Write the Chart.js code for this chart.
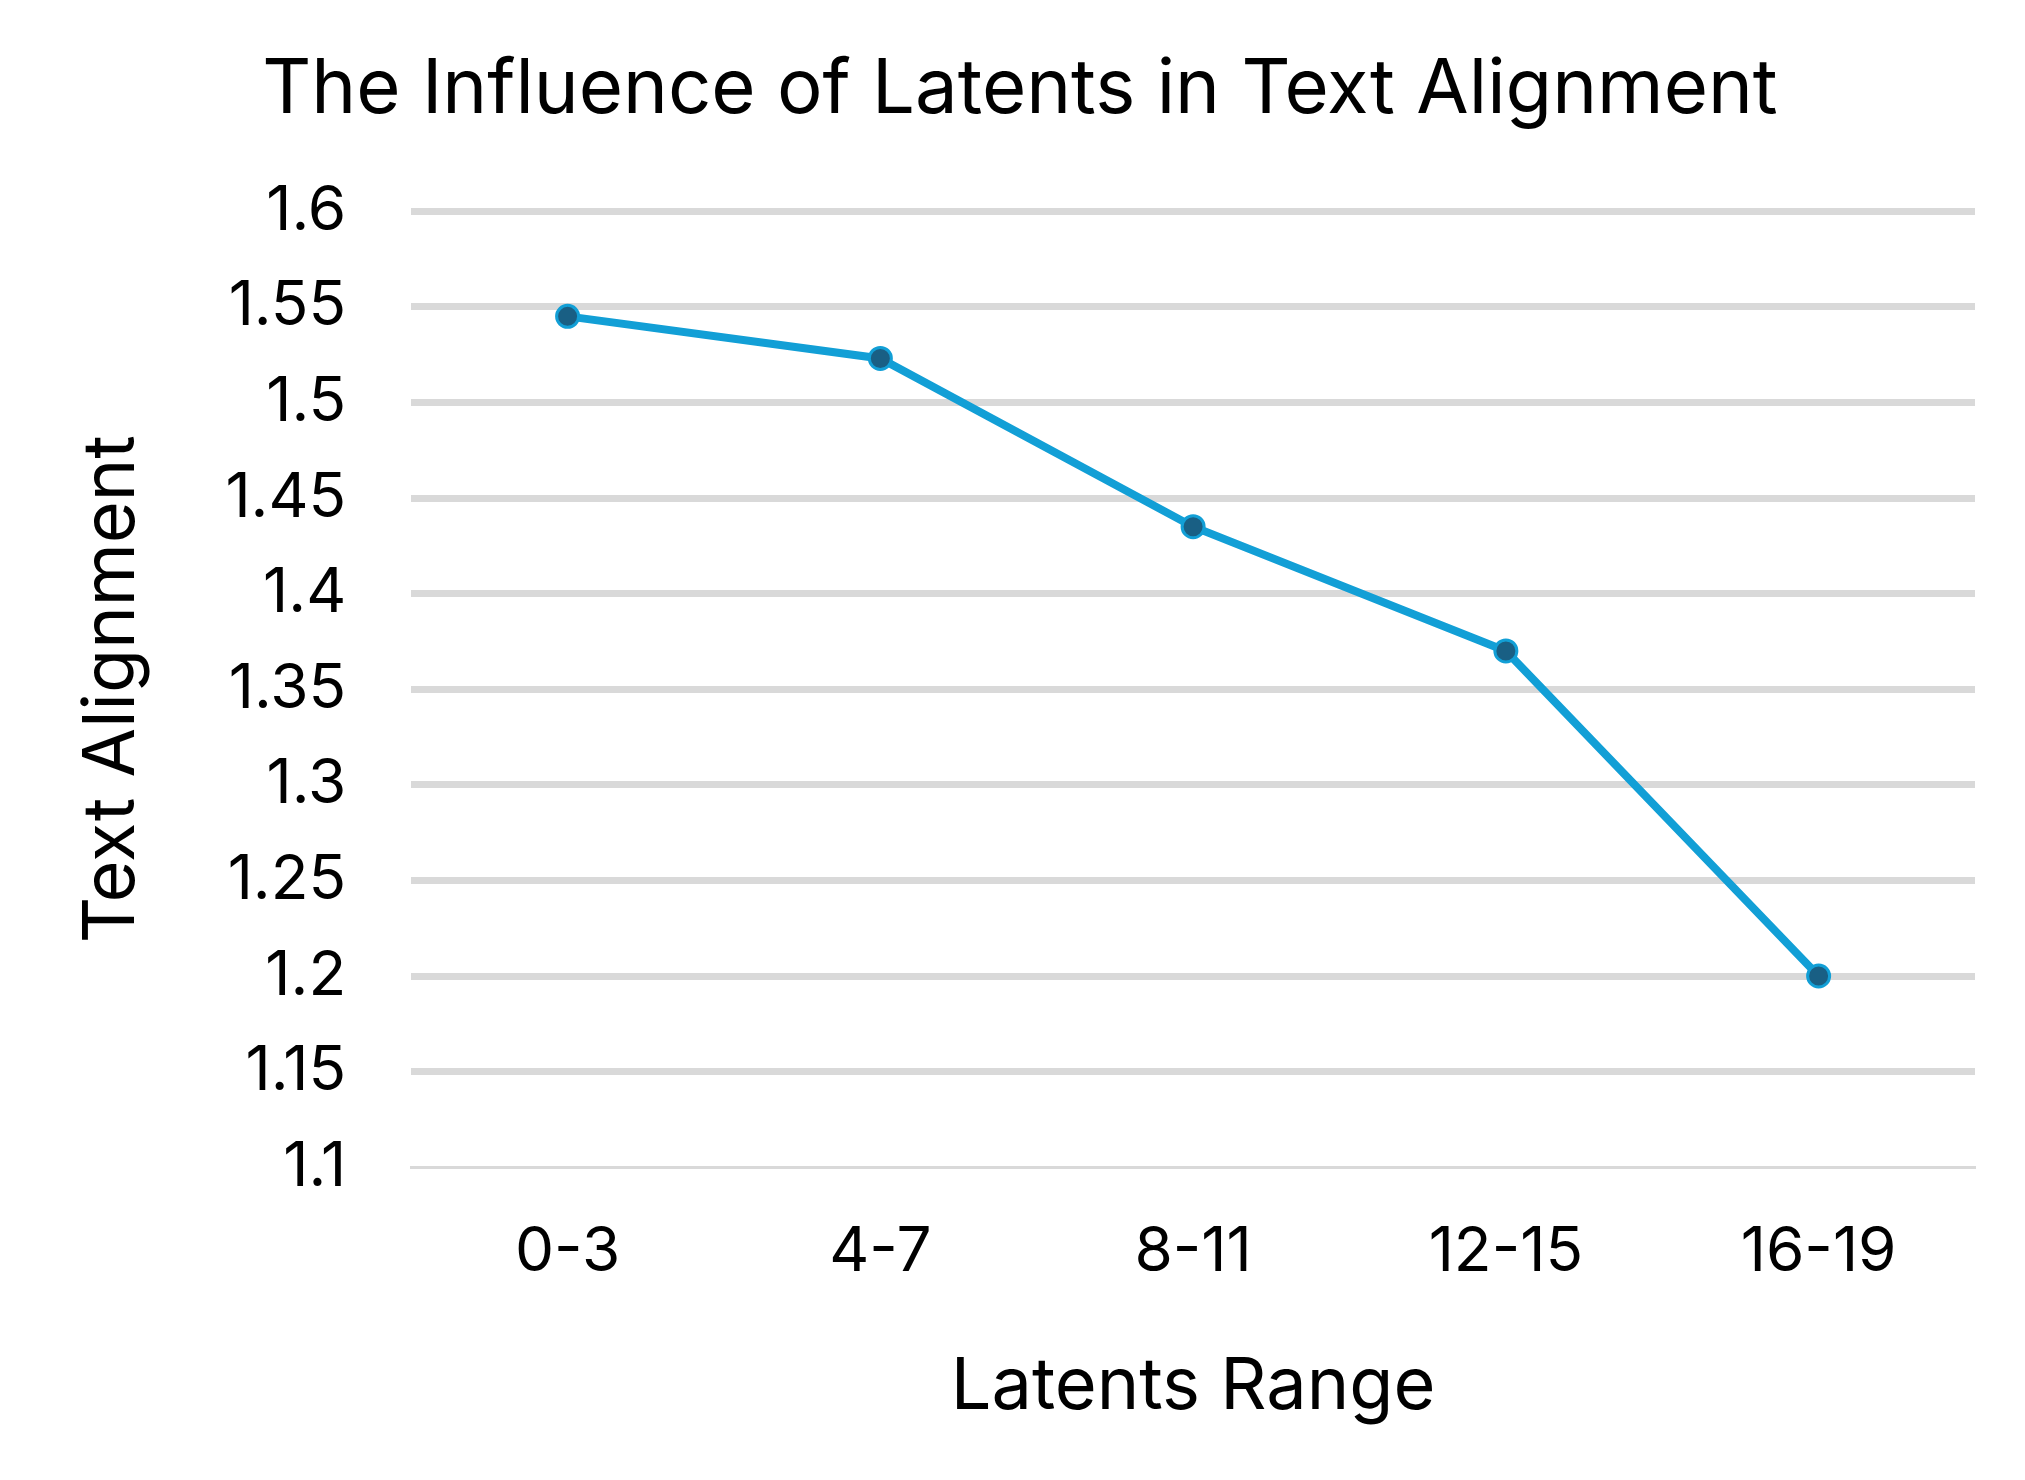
<!DOCTYPE html>
<html><head><meta charset="utf-8">
<script src="https://cdn.jsdelivr.net/npm/chart.js@4"></script>
<style>html,body{margin:0;padding:0;background:#fff}</style>
</head><body>
<canvas id="c" width="2025" height="1480"></canvas>
<script>
const categories = ["0-3","4-7","8-11","12-15","16-19"];
const values = [1.545, 1.523, 1.435, 1.37, 1.2];
const FONT = "Inter, 'Open Sans', sans-serif";
new Chart(document.getElementById('c'), {
  type: 'line',
  data: { labels: categories, datasets: [{
    data: values, borderColor: '#129fd6', borderWidth: 8,
    pointBackgroundColor: '#195f84', pointBorderColor: '#129fd6',
    pointBorderWidth: 3, pointRadius: 11, tension: 0
  }]},
  options: {
    responsive: false, devicePixelRatio: 1, animation: false,
    layout: { padding: { left: 65, right: 50, top: 20, bottom: 45 } },
    plugins: {
      legend: { display: false }, tooltip: { enabled: false },
      title: { display: true, text: 'The Influence of Latents in Text Alignment',
        color: '#000', font: { family: FONT, size: 76, weight: 'normal' }, padding: { top: 25, bottom: 75 } }
    },
    scales: {
      x: { offset: true, grid: { display: false }, border: { color: '#d9d9d9', width: 3 },
        ticks: { color: '#000', font: { family: FONT, size: 62 }, padding: 40 },
        title: { display: true, text: 'Latents Range', color: '#000', font: { family: FONT, size: 72 }, padding: { top: 15 } } },
      y: { min: 1.1, max: 1.6, border: { display: false },
        grid: { color: ctx => '#d9d9d9', lineWidth: ctx => ctx.tick && ctx.tick.value === 1.1 ? 3 : 7, drawTicks: false },
        ticks: { stepSize: 0.05, color: '#000', font: { family: FONT, size: 62 }, padding: 65,
          callback: v => +v.toFixed(2) + '' },
        title: { display: true, text: 'Text Alignment', color: '#000', font: { family: FONT, size: 72 }, padding: { bottom: 5 } } }
    }
  }
});
</script>
</body></html>
